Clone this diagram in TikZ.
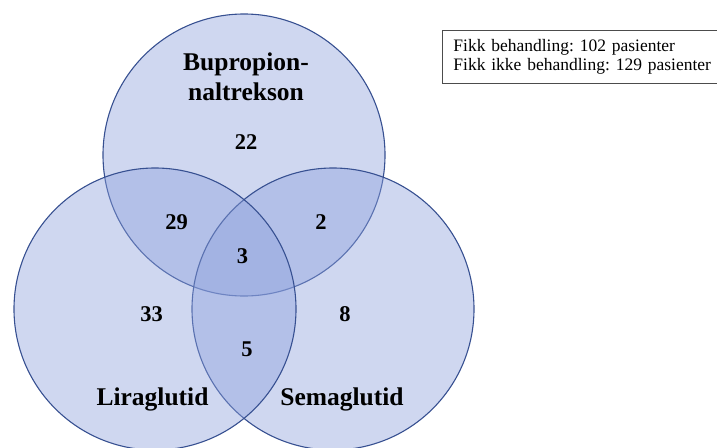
\documentclass[tikz,border=0pt]{standalone}
\usepackage{fontspec}
\setmainfont{Liberation Serif}
\usepackage{tikz}
\usepackage{xcolor}
\usetikzlibrary{positioning}

\definecolor{vennfill}{RGB}{140,160,220}
\definecolor{vennline}{RGB}{55,80,145}

\begin{document}
\frenchspacing
\begin{tikzpicture}[
    x=1pt, y=-1pt,
    venn/.style={
        circle,
        draw=vennline,
        line width=1.1pt,
        fill=vennfill,
        fill opacity=0.42,
        minimum size=282pt,
        inner sep=0pt
    },
    setlabel/.style={
        align=center,
        font=\fontsize{25.5}{30}\selectfont\bfseries
    },
    count/.style={
        inner sep=0pt,
        font=\fontsize{22.5}{27}\selectfont\bfseries
    },
    legendbox/.style={
        rectangle,
        draw=black!70,
        line width=0.8pt,
        anchor=north west,
        align=left,
        text width=265pt,
        inner xsep=11pt,
        minimum height=53pt,
        font=\fontsize{17.5}{18.3}\selectfont
    }
]
\useasboundingbox (0,0) rectangle (717,447);
\node (bupcircle) [venn] at (244,155) {};
\node (semcircle) [venn] at (333,309) {};
\node (lircircle) [venn] at (155,309) {};
\node (buplabel) [setlabel, inner sep=0pt] at (246,76.3) {Bupropion-\\naltrekson};
\node (lirlabel) [setlabel, anchor=base] at (152.5,405.7) {Liraglutid};
\node (semlabel) [setlabel, anchor=base] at (342,405) {Semaglutid};
\node (onlybup) [count] at (246,142.5) {22};
\node (buplir) [count] at (176.5,222.5) {29};
\node (bupsem) [count] at (321,222.5) {2};
\node (allthree) [count] at (242.5,256) {3};
\node (onlylir) [count] at (151.5,314.5) {33};
\node (onlysem) [count] at (345,314.5) {8};
\node (lirsem) [count] at (247,349) {5};
\node (legend) [legendbox] at (442,30) {Fikk behandling: 102 pasienter\\Fikk ikke behandling: 129 pasienter};
\end{tikzpicture}
\end{document}
